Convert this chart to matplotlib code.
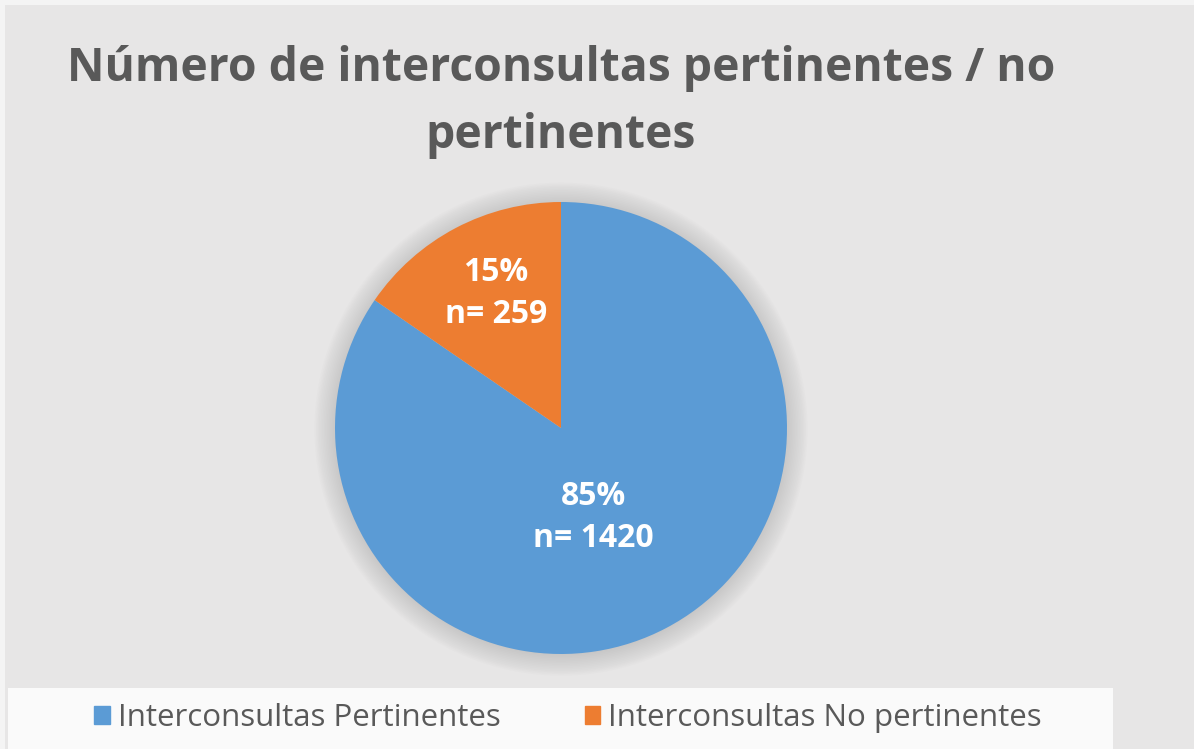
import numpy as np
import matplotlib.pyplot as plt
from matplotlib.patches import Rectangle, Circle

# data
categories = ["Interconsultas Pertinentes", "Interconsultas No pertinentes"]
counts = [1420, 259]
pct_labels = ["85%", "15%"]
colors = ["#5b9bd5", "#ed7d31"]
title = "Número de interconsultas pertinentes / no\npertinentes"

W, H = 1194, 749
fig = plt.figure(figsize=(W / 100, H / 100), dpi=100)
fig.patch.set_facecolor("#f4f4f4")

# chart area background and legend band
bg = fig.add_axes([0, 0, 1, 1])
bg.set_xlim(0, W)
bg.set_ylim(H, 0)
bg.axis("off")
bg.add_patch(Rectangle((5, 5), W - 5, H - 5, color="#e7e6e6", lw=0))
bg.add_patch(Rectangle((8, 688), 1105, 70, color="#fafafa", lw=0))

fig.text(561 / W, 1 - 102 / H, title, ha="center", va="center",
         fontsize=33.3, fontweight="bold", color="#595959",
         family="Open Sans", linespacing=1.55)

# pie
cx, cy, r = 561, 428, 226
ax = fig.add_axes([(cx - r) / W, (H - cy - r) / H, 2 * r / W, 2 * r / H])

# soft shadow
for i in range(14):
    ax.add_patch(Circle((0.0, -0.005), 1.0 + i * 0.007, color="#888888",
                        alpha=0.025, lw=0, zorder=0, clip_on=False))

wedges, _ = ax.pie(counts, colors=colors, startangle=90, counterclock=False,
                   radius=1, wedgeprops=dict(lw=0), frame=True)
ax.set_xlim(-1, 1)
ax.set_ylim(-1, 1)
ax.axis("off")

dists = [0.42, 0.66]
offsets = [-8, -2]
for w, lab, n, d, off in zip(wedges, pct_labels, counts, dists, offsets):
    ang = np.deg2rad((w.theta1 + w.theta2) / 2 + off)
    ax.text(d * np.cos(ang), d * np.sin(ang), f"{lab}\nn= {n}",
            ha="center", va="center", color="white", fontsize=23,
            fontweight="bold", family="Open Sans", linespacing=1.35)

# legend
handles = [Rectangle((0, 0), 1, 1, color=c) for c in colors]
leg = fig.legend(handles, categories, loc="center", ncol=2,
                 bbox_to_anchor=(568 / W, 1 - 718 / H), frameon=False,
                 prop=dict(family="Open Sans", size=22.5),
                 handlelength=0.5, handleheight=0.5, handletextpad=0.25,
                 columnspacing=2.7)
for t in leg.get_texts():
    t.set_color("#595959")

fig.savefig("out.png", dpi=100, facecolor=fig.get_facecolor())
